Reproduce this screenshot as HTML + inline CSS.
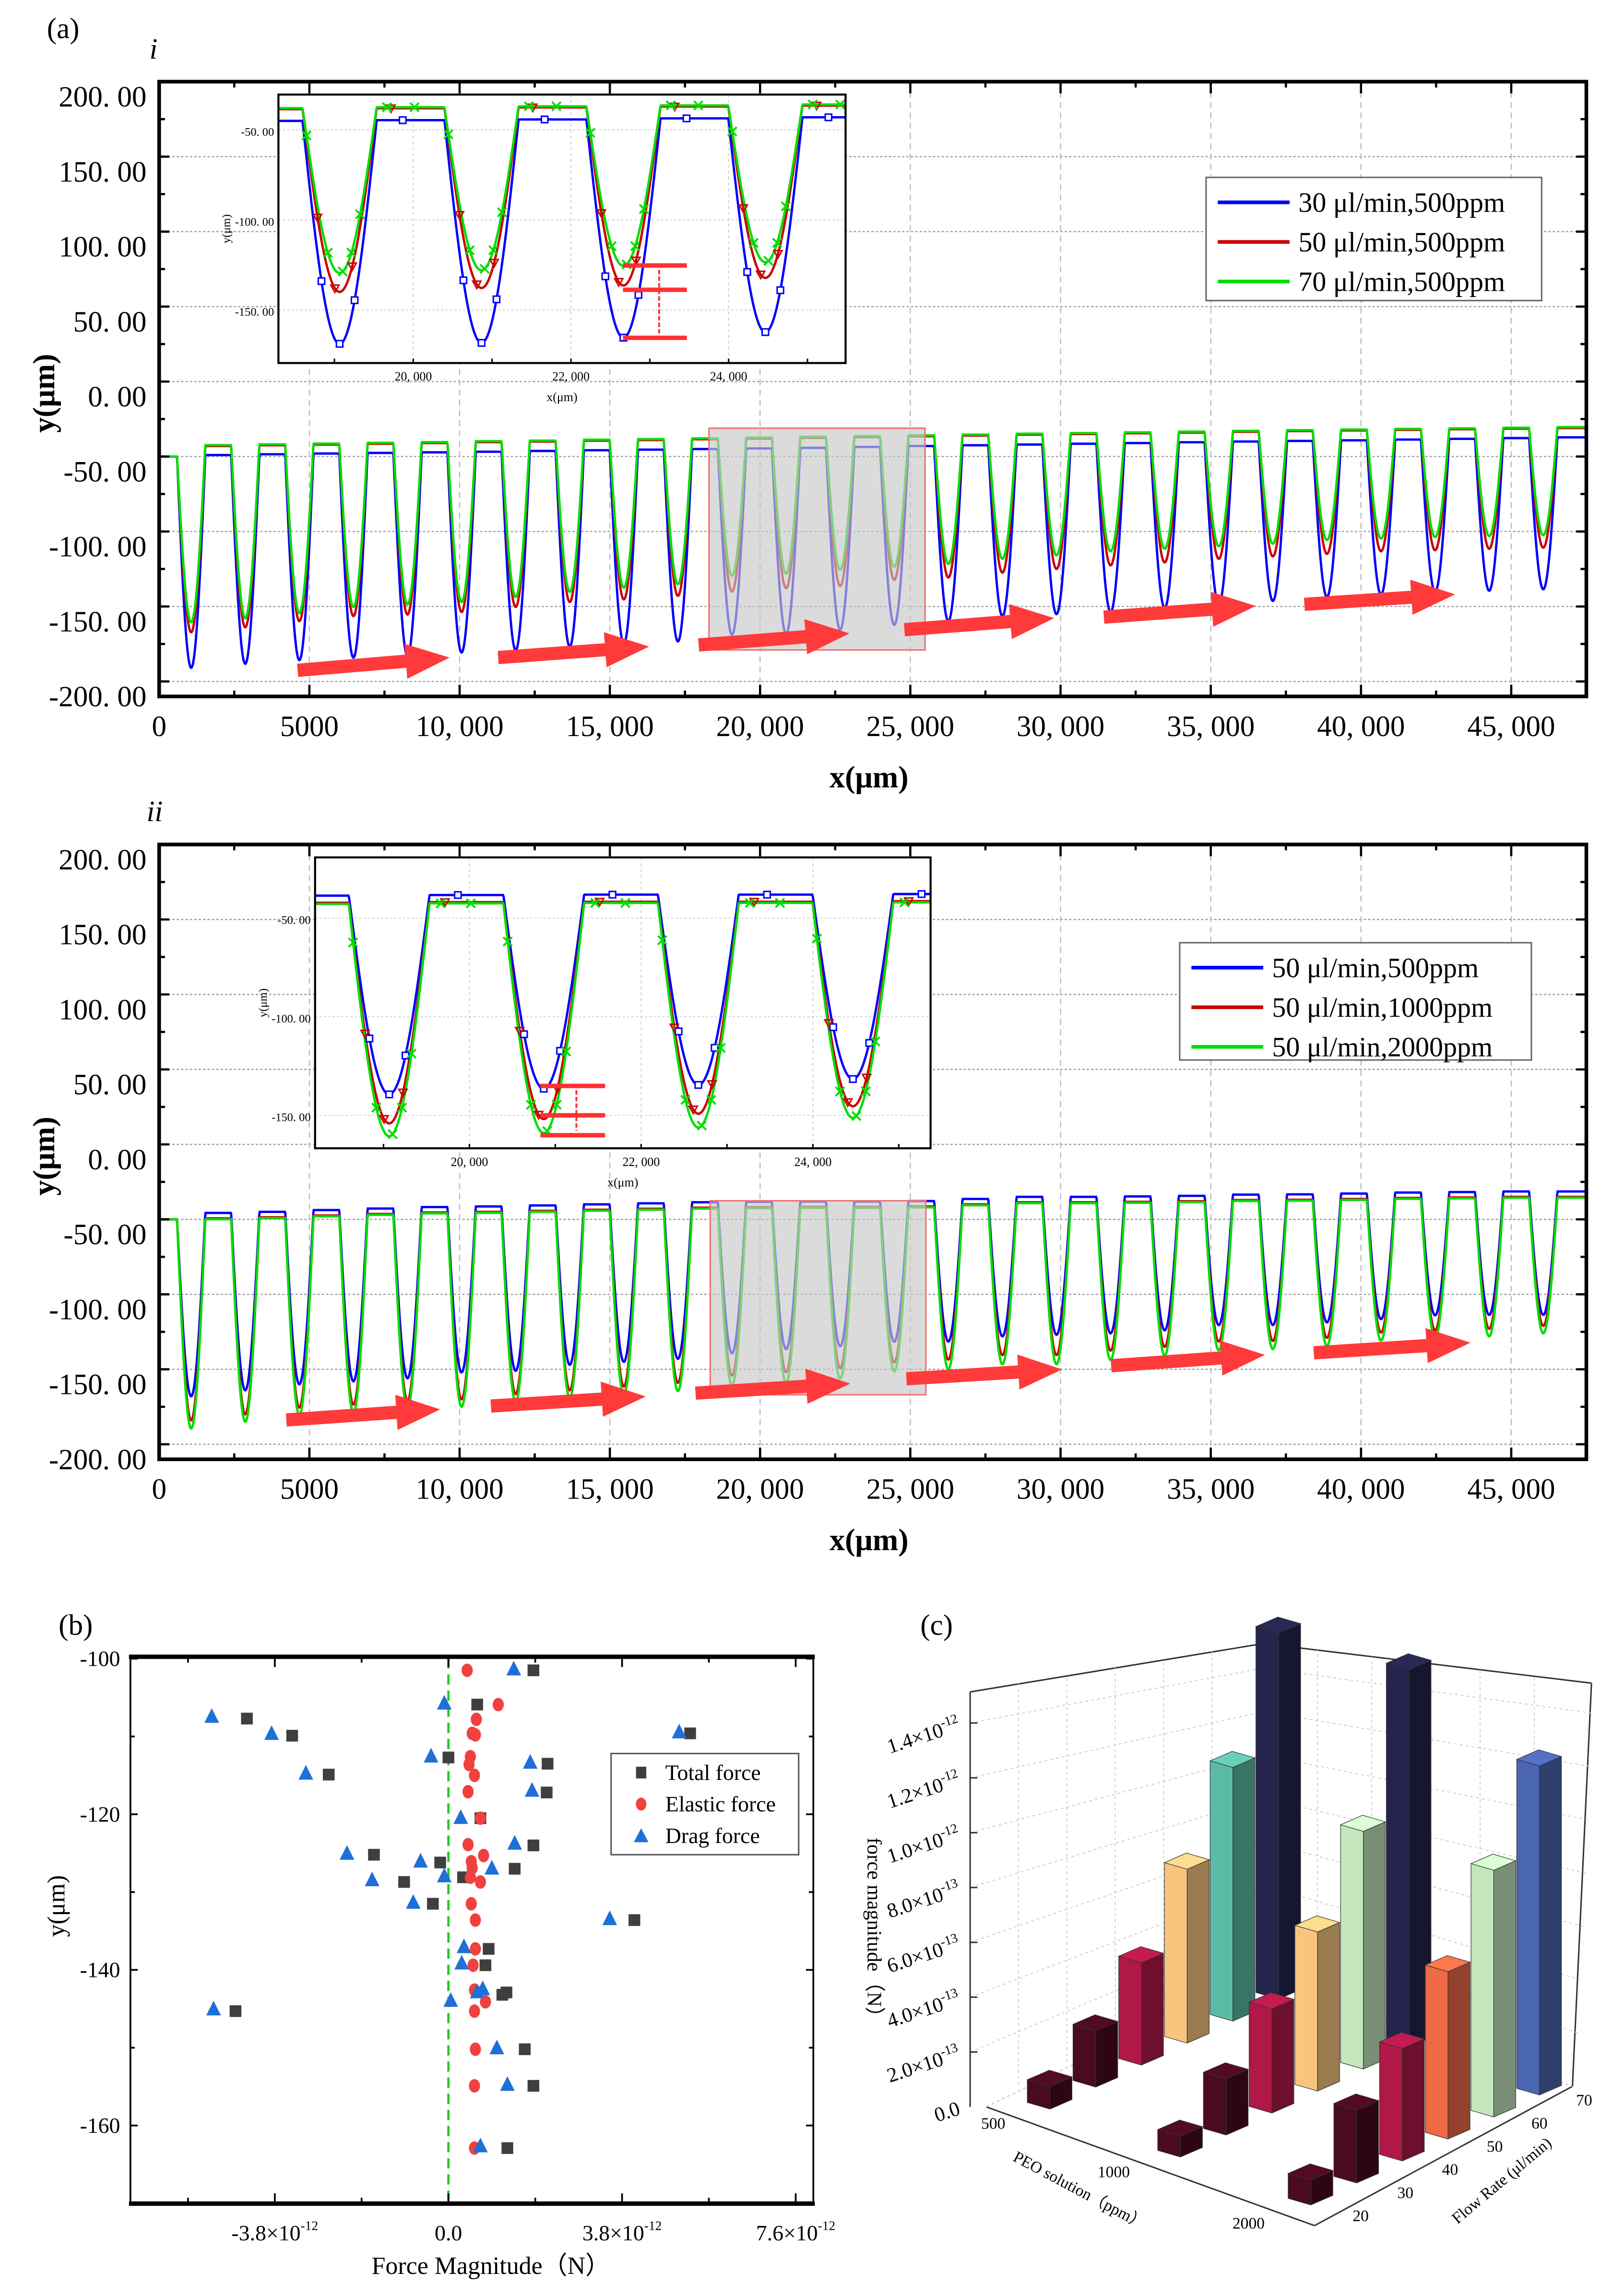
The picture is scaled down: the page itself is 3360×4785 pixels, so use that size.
<!DOCTYPE html>
<html><head><meta charset="utf-8">
<style>
html,body{margin:0;padding:0;background:#fff;}
svg{display:block;font-family:"Liberation Serif",serif;}
</style></head>
<body>
<svg id="fig" xmlns="http://www.w3.org/2000/svg" width="3360" height="4785" viewBox="0 0 1100 1566" preserveAspectRatio="none">
<defs>
<clipPath id="clipA"><rect x="108.6" y="55.7" width="973.9" height="419.3"/></clipPath>
<clipPath id="clipB"><rect x="108.6" y="576" width="973.9" height="419.3"/></clipPath>
<clipPath id="clipIA"><rect x="190" y="64.5" width="387" height="183.1"/></clipPath>
<clipPath id="clipIB"><rect x="215" y="584.8" width="420" height="198.4"/></clipPath>
</defs>
<text x="32" y="26" font-size="20">(a)</text>
<text x="102" y="40" font-size="20" font-style="italic">i</text>
<text x="100" y="560" font-size="20" font-style="italic">ii</text>
<text x="40" y="1115" font-size="20">(b)</text>
<text x="628" y="1115" font-size="20">(c)</text>
<g id="pa"></g>
<g id="pb"></g>
<g id="pc"></g>
<g id="pd"></g>
</svg>
<script>
// ---------- DATA ----------
const wellCenters=[1066,2866,4666,6466,8266,10066,11866,13666,15466,17266,19066,20866,22666,24466,26266,28066,29866,31666,33466,35266,37066,38866,40666,42466,44266,46066];
const iBlueMin=[-190.9,-188.2,-185.8,-184.1,-183.1,-180.7,-179.1,-176.7,-174.7,-173.3,-168.8,-168.3,-165.4,-162.3,-159.8,-156.4,-155.1,-153.7,-151,-148.6,-146.3,-143.6,-141.9,-140.2,-139.5,-138.5];
const iRedMin=[-167.2,-163.9,-159.8,-156.4,-155.4,-153.7,-150.3,-147,-145.3,-142.9,-140,-137.8,-136.4,-132.2,-130.7,-127.4,-125,-122.6,-120.6,-118.2,-116.6,-114.9,-113.2,-112.5,-111.5,-110.8];
const iGreenMin=[-160.5,-157.8,-154.4,-150.3,-148.6,-147,-143.6,-140.2,-137.5,-135.1,-129.5,-128,-125.5,-123.5,-121.6,-118.2,-115.9,-113.2,-111.5,-109.8,-108.1,-105.7,-104.7,-103.7,-103,-102.4];
const iBluePlat=[-49,-48.5,-48,-47.6,-47.2,-46.8,-46.3,-45.8,-45.4,-45,-44.6,-44.2,-43.6,-43,-42.5,-42,-41.5,-41,-40.5,-40,-39.6,-39.2,-38.7,-38.2,-37.7,-37.2];
const iRedPlat=[-43,-42.5,-42,-41.5,-41,-40.4,-40,-39.4,-39,-38.5,-38,-37.5,-37,-36.5,-36,-35.4,-35,-34.5,-34,-33.5,-33,-32.6,-32.2,-31.8,-31.4,-31];
const iGreenPlat=[-42.4,-41.9,-41.4,-40.9,-40.4,-39.8,-39.4,-38.8,-38.4,-37.9,-37.4,-36.9,-36.4,-35.9,-35.4,-34.8,-34.4,-33.9,-33.4,-32.9,-32.4,-32,-31.6,-31.2,-30.8,-30.4];
const iiBlueMin=[-168,-164,-160,-158,-156,-152,-151,-147,-145,-143,-139.4,-136.5,-134.6,-131.6,-131.5,-128,-127,-126,-124,-120.5,-120.5,-118.7,-116.5,-114,-113.7,-113.7];
const iiRedMin=[-184,-180,-175.5,-173.5,-171,-170,-166.5,-164,-161.5,-159,-154.1,-151.9,-149.2,-145.4,-143.5,-140.5,-140.5,-137.5,-135,-131.5,-131,-129,-125.5,-124,-123,-121];
const iiGreenMin=[-189.5,-185,-180.6,-178.8,-176,-175,-171.6,-169,-167,-164.5,-160.6,-159,-156.2,-151.3,-150,-146.6,-146.6,-143.7,-140.8,-137.3,-136.5,-134.4,-130.8,-129,-128,-126];
const iiBluePlat=[-45.7,-45,-43.8,-42.8,-41.8,-41.4,-40.7,-40,-39.3,-38.6,-38.3,-38.1,-38.1,-37.8,-36.4,-35,-35,-34.7,-34.3,-33.5,-33.3,-32.8,-32.1,-31.8,-31.4,-31.4];
const iiRedPlat=[-49.3,-48.6,-47.4,-46.4,-45.4,-45,-44.3,-43.6,-42.9,-42.2,-41.9,-41.7,-41.7,-41.4,-40,-38.6,-38.6,-38.3,-37.9,-37.1,-36.9,-36.4,-35.7,-35.4,-35,-35];
const iiGreenPlat=[-49.9,-49.2,-48,-47,-46,-45.6,-44.9,-44.2,-43.5,-42.8,-42.5,-42.3,-42.3,-42,-40.6,-39.2,-39.2,-38.9,-38.5,-37.7,-37.5,-37,-36.3,-36,-35.6,-35.6];
const startLevel=-50;
const aYTicks=[200,150,100,50,0,-50,-100,-150,-200];
const aYTickLabels=["200. 00","150. 00","100. 00","50. 00","0. 00","-50. 00","-100. 00","-150. 00","-200. 00"];
const aXTicks=[0,5000,10000,15000,20000,25000,30000,35000,40000,45000];
const aXTickLabels=["0","5000","10, 000","15, 000","20, 000","25, 000","30, 000","35, 000","40, 000","45, 000"];
const insetXTicks=[20000,22000,24000];
const insetXTickLabels=["20, 000","22, 000","24, 000"];
const insetYTicks=[-50,-100,-150];
const insetYTickLabels=["-50. 00","-100. 00","-150. 00"];
const iArrows=[[4610,-192.6,9666,-184.1],[11283,-184.1,16305,-176.7],[17957,-175.7,22979,-167.9],[24802,-165.5,29790,-157.8],[31441,-157.1,36498,-149.7],[38115,-148.6,43137,-141.9]];
const iiArrows=[[4232,-183.8,9355,-176.7],[11041,-174.5,16194,-168.1],[17850,-165.9,23002,-159.5],[24873,-156.3,30056,-150.1],[31682,-147.6,36804,-140.4],[38430,-139,43644,-132.3]];
const iBox=[18300,-31.1,25490,-179];
const iiBox=[18340,-37.6,25518,-167];
const iLegend=["30 μl/min,500ppm","50 μl/min,500ppm","70 μl/min,500ppm"];
const iiLegend=["50 μl/min,500ppm","50 μl/min,1000ppm","50 μl/min,2000ppm"];
const iBracket=[22660,23470,23119,-125.3,-138.8,-165.5];
const iiBracket=[20827,21580,21246,-135.1,-150,-160.1];
// panel b
const totalX=[1.86,0.63,-4.41,-3.42,5.29,0,2.17,-2.62,2.15,0.70,1.86,-1.63,-0.18,1.45,0.32,-0.97,-0.34,4.07,0.88,0.81,1.27,1.18,-4.66,1.67,1.86,1.29];
const totalY=[-101.5,-105.9,-107.7,-109.9,-109.6,-112.7,-113.5,-114.9,-117.2,-120.5,-124.0,-125.2,-126.2,-127.0,-128.1,-128.7,-131.5,-133.6,-137.3,-139.4,-142.9,-143.2,-145.3,-150.2,-154.9,-162.9];
const elasticX=[0.41,1.09,0.61,0.52,0.59,0.48,0.45,0.57,0.43,0.70,0.43,0.77,0.50,0.52,0.48,0.70,0.50,0.59,0.59,0.54,0.57,0.81,0.57,0.59,0.57,0.57];
const elasticY=[-101.5,-105.9,-107.8,-109.6,-109.8,-112.6,-113.6,-115.0,-117.1,-120.5,-123.9,-125.3,-126.1,-126.9,-128.1,-128.7,-131.5,-133.6,-137.3,-139.4,-142.6,-144.1,-145.3,-150.2,-154.9,-162.9];
const dragX=[1.43,-0.09,-5.18,-3.87,5.05,-0.38,1.79,-3.12,1.83,0.27,1.45,-2.22,-0.61,0.95,-0.09,-1.67,-0.77,3.53,0.34,0.29,0.75,0.63,0.05,-5.14,1.06,1.29,0.70];
const dragY=[-101.3,-105.7,-107.4,-109.6,-109.4,-112.5,-113.3,-114.7,-116.9,-120.4,-123.7,-125.0,-126.0,-126.9,-127.9,-128.4,-131.3,-133.4,-137.0,-139.1,-142.4,-142.8,-143.9,-145.0,-150.0,-154.7,-162.6];
const bYTicks=[-100,-120,-140,-160];
const bXTicks=[-3.8,0,3.8,7.6];
const bXTickLabels=[["-3.8×10","-12"],["0.0",""],["3.8×10","-12"],["7.6×10","-12"]];
const bLegend=["Total force","Elastic force","Drag force"];
// panel c
const peoCats=["500","1000","2000"];
const flowCats=["20","30","40","50","60","70"];
const c500=[0.083,0.205,0.373,0.634,0.925,1.335];
const c1000=[0.076,0.205,0.38,0.58,0.867,1.376];
const c2000=[0.091,0.266,0.41,0.61,0.9,1.2];
const cZTicks=[0,0.2,0.4,0.6,0.8,1.0,1.2,1.4];
const cZTickLabels=[["0.0",""],["2.0×10","-13"],["4.0×10","-13"],["6.0×10","-13"],["8.0×10","-13"],["1.0×10","-12"],["1.2×10","-12"],["1.4×10","-12"]];
const cColors=[["#4a0a1f","#4a0a1f","#b01848","#f8c57f","#5cbba6","#25244d"],["#4a0a1f","#4a0a1f","#b01848","#f8c57f","#c3e6bd","#25244d"],["#4a0a1f","#4a0a1f","#b01848","#ee6a45","#c3e6bd","#4a66b2"]];

// ---------- HELPERS ----------
const NS="http://www.w3.org/2000/svg";
function add(parent,tag,attrs){const e=document.createElementNS(NS,tag);for(const k in attrs)e.setAttribute(k,attrs[k]);parent.appendChild(e);return e;}
const W=470;
function wave(mins,plats,x){
  for(let k=0;k<wellCenters.length;k++){
    const u=x-wellCenters[k];
    if(Math.abs(u)<W){const p=u<0?(k===0?startLevel:plats[k-1]):plats[k];return p+(mins[k]-p)*Math.cos(Math.PI/2*Math.abs(u)/W);}
  }
  let p=startLevel;
  for(let k=0;k<wellCenters.length;k++){if(wellCenters[k]<x)p=plats[k];}
  return p;
}
function curvePath(mins,plats,X,Y,xa,xb,step){
  let d="";
  for(let x=xa;x<=xb;x+=step){d+=(d?"L":"M")+X(x).toFixed(2)+","+Y(wave(mins,plats,x)).toFixed(2);}
  return d;
}
function darken(hex,f){const n=parseInt(hex.slice(1),16);let r=(n>>16)&255,g=(n>>8)&255,b=n&255;r=Math.round(Math.min(255,r*f));g=Math.round(Math.min(255,g*f));b=Math.round(Math.min(255,b*f));return "rgb("+r+","+g+","+b+")";}

// ---------- PANEL A (i and ii) ----------
function drawA(gid,top,clip,mins,plats,arrows,box,legend,legBox,inset,bracket){
  const g=document.getElementById(gid);
  const X=v=>108.6+v*(1082.5-108.6)/47500;
  const Y=v=>top+(200-v)*1.0227;
  const bottom=Y(-210);
  aYTicks.forEach(v=>{if(v===200)return;const l=add(g,"line",{x1:108.6,x2:1082.5,y1:Y(v),y2:Y(v),stroke:"#999","stroke-width":0.8,"stroke-dasharray":"1.5,1.5"});
    
    });
  aXTicks.forEach(v=>{if(v===0)return;const l=add(g,"line",{x1:X(v),x2:X(v),y1:top,y2:bottom,stroke:"#bbb","stroke-width":0.8,"stroke-dasharray":"4,3"});
    
    });
  const cols=["#0000ff","#cc0000","#00dd00"];
  const names=["series-blue","series-red","series-green"];
  for(let s=0;s<3;s++){
    const p=add(g,"path",{d:curvePath(mins[s],plats[s],X,Y,0,47500,15),fill:"none",stroke:cols[s],"stroke-width":1.6,"clip-path":"url(#"+clip+")"});
    
    
  }
  const bx=add(g,"rect",{x:X(box[0]),y:Y(box[1]),width:X(box[2])-X(box[0]),height:Y(box[3])-Y(box[1]),fill:"rgba(200,200,200,0.65)",stroke:"#f07070","stroke-width":1});
  
  
  arrows.forEach(a=>{
    const x1=X(a[0]),y1=Y(a[1]),x2=X(a[2]),y2=Y(a[3]);
    const dx=x2-x1,dy=y2-y1,L=Math.hypot(dx,dy),ux=dx/L,uy=dy/L,nx=-uy,ny=ux;
    const hl=30,sw=4.5,hw=12;const bx2=x2-ux*hl,by2=y2-uy*hl;
    const pts=[[x1+nx*sw,y1+ny*sw],[bx2+nx*sw,by2+ny*sw],[bx2+nx*hw,by2+ny*hw],[x2,y2],[bx2-nx*hw,by2-ny*hw],[bx2-nx*sw,by2-ny*sw],[x1-nx*sw,y1-ny*sw]];
    const pg=add(g,"polygon",{points:pts.map(p=>p[0].toFixed(1)+","+p[1].toFixed(1)).join(" "),fill:"#ff3a3a"});
    
    
  });
  const fr=add(g,"rect",{x:108.6,y:top,width:973.9,height:bottom-top,fill:"none",stroke:"#000","stroke-width":2.5});
  
  
  for(let v=0;v<=47500;v+=2500){const len=v%5000===0?8:4;
    const t1=add(g,"line",{x1:X(v),x2:X(v),y1:bottom,y2:bottom-len,stroke:"#000","stroke-width":1.5});
    
    
    const t2=add(g,"line",{x1:X(v),x2:X(v),y1:top,y2:top+len,stroke:"#000","stroke-width":1.5});
    
    }
  for(let v=-200;v<=200;v+=25){const len=v%50===0?7:4;
    const t1=add(g,"line",{x1:108.6,x2:108.6+len,y1:Y(v),y2:Y(v),stroke:"#000","stroke-width":1.5});
    
    
    const t2=add(g,"line",{x1:1082.5,x2:1082.5-len,y1:Y(v),y2:Y(v),stroke:"#000","stroke-width":1.5});
    
    }
  aYTicks.forEach((v,i)=>{const t=add(g,"text",{x:100,y:Y(v)+17,"font-size":20,"text-anchor":"end"});t.textContent=aYTickLabels[i];
    
    });
  aXTicks.forEach((v,i)=>{const t=add(g,"text",{x:X(v),y:bottom+27,"font-size":20,"text-anchor":"middle"});t.textContent=aXTickLabels[i];
    
    });
  const yt=add(g,"text",{x:0,y:0,"font-size":21,"font-weight":"bold","text-anchor":"middle",transform:"translate(37,"+(Y(0)+8)+") rotate(-90)"});yt.textContent="y(μm)";
  
  
  const xt=add(g,"text",{x:593,y:bottom+62,"font-size":21,"font-weight":"bold","text-anchor":"middle"});xt.textContent="x(μm)";
  
  
  const lg=add(g,"g",{});
  
  
  const lr=add(lg,"rect",{x:legBox[0],y:legBox[1],width:legBox[2],height:legBox[3],fill:"#fff",stroke:"#666","stroke-width":1});
  
  
  legend.forEach((txt,i)=>{const yy=legBox[1]+17+i*27;
    const ll=add(lg,"line",{x1:legBox[0]+8,x2:legBox[0]+57,y1:yy,y2:yy,stroke:cols[i],"stroke-width":2.5});
    
    
    const lt=add(lg,"text",{x:legBox[0]+63,y:yy+6.5,"font-size":19});lt.textContent=txt;
    
    });
  const ig=add(g,"g",{});
  
  
  const IX=v=>inset.x0+(v-inset.v0)*inset.sx;
  const IY=v=>inset.y50+(-50-v)*inset.sy;
  const ir=add(ig,"rect",{x:inset.x0,y:inset.top,width:inset.w,height:inset.h,fill:"#fff",stroke:"none"});
  
  
  insetXTicks.forEach(v=>{const l=add(ig,"line",{x1:IX(v),x2:IX(v),y1:inset.top,y2:inset.top+inset.h,stroke:"#ccc","stroke-width":0.6,"stroke-dasharray":"2,2"});
    
    });
  insetYTicks.forEach(v=>{const l=add(ig,"line",{x1:inset.x0,x2:inset.x0+inset.w,y1:IY(v),y2:IY(v),stroke:"#ccc","stroke-width":0.6,"stroke-dasharray":"1.5,1.5"});
    
    });
  const vmin=inset.v0-100,vmax=inset.v0+inset.w/inset.sx+100;
  for(let s=0;s<3;s++){
    const p=add(ig,"path",{d:curvePath(mins[s],plats[s],IX,IY,vmin,vmax,8),fill:"none",stroke:cols[s],"stroke-width":1.6,"clip-path":"url(#"+inset.clip+")"});
    
    
  }
  const offs=[[-230,0,190,800],[-280,-60,160,650],[-420,-150,40,150,260,600,950]];
  for(let k=10;k<=13;k++){
    for(let s=0;s<3;s++){
      offs[s].forEach(u=>{const xv=wellCenters[k]+u;const px=IX(xv),py=IY(wave(mins[s],plats[s],xv));
        if(px<inset.x0+2||px>inset.x0+inset.w-2)return;
        let m;
        if(s===0){m=add(ig,"rect",{x:px-2.2,y:py-2.2,width:4.4,height:4.4,fill:"#fff",stroke:cols[0],"stroke-width":1});}
        else if(s===1){m=add(ig,"polygon",{points:(px-2.8)+","+(py-2.2)+" "+(px+2.8)+","+(py-2.2)+" "+px+","+(py+2.8),fill:"none",stroke:cols[1],"stroke-width":1});}
        else{m=add(ig,"path",{d:"M"+(px-3)+","+(py-3)+"L"+(px+3)+","+(py+3)+"M"+(px+3)+","+(py-3)+"L"+(px-3)+","+(py+3),stroke:cols[2],"stroke-width":1.3});}
        
        
      });
    }
  }
  [bracket[3],bracket[4],bracket[5]].forEach(v=>{const b=add(ig,"line",{x1:IX(bracket[0]),x2:IX(bracket[1]),y1:IY(v),y2:IY(v),stroke:"#ff3030","stroke-width":3});
    
    });
  const va=add(ig,"line",{x1:IX(bracket[2]),x2:IX(bracket[2]),y1:IY(bracket[3])+3,y2:IY(bracket[5])-3,stroke:"#ff3030","stroke-width":1.3,"stroke-dasharray":"3,1.5"});
  
  
  const ifr=add(ig,"rect",{x:inset.x0,y:inset.top,width:inset.w,height:inset.h,fill:"none",stroke:"#000","stroke-width":1.4});
  
  
  for(let v=19000;v<=25000;v+=1000){const t=add(ig,"line",{x1:IX(v),x2:IX(v),y1:inset.top+inset.h,y2:inset.top+inset.h-3,stroke:"#000","stroke-width":1});
    
    }
  insetXTicks.forEach((v,i)=>{const t=add(ig,"text",{x:IX(v),y:inset.top+inset.h+12,"font-size":8.5,"text-anchor":"middle"});t.textContent=insetXTickLabels[i];
    
    });
  insetYTicks.forEach((v,i)=>{const t=add(ig,"text",{x:inset.x0-3,y:IY(v)+4,"font-size":8,"text-anchor":"end"});t.textContent=insetYTickLabels[i];
    
    });
  const ixt=add(ig,"text",{x:inset.x0+inset.w/2,y:inset.top+inset.h+26,"font-size":8.5,"text-anchor":"middle"});ixt.textContent="x(μm)";
  
  
  const iyt=add(ig,"text",{x:0,y:0,"font-size":8,"text-anchor":"middle",transform:"translate("+(inset.x0-33)+","+(inset.top+inset.h/2)+") rotate(-90)"});iyt.textContent="y(μm)";
  
  
}
drawA("pa",55.7,"clipA",[iBlueMin,iRedMin,iGreenMin],[iBluePlat,iRedPlat,iGreenPlat],iArrows,iBox,iLegend,[823,121,229,84],
  {x0:190,top:64.5,w:387,h:183.1,v0:18290,sx:0.0538,y50:88.6,sy:1.228,clip:"clipIA"},iBracket);
drawA("pb",576,"clipB",[iiBlueMin,iiRedMin,iiGreenMin],[iiBluePlat,iiRedPlat,iiGreenPlat],iiArrows,iiBox,iiLegend,[805,643,240,80],
  {x0:215,top:584.8,w:420,h:198.4,v0:18203,sx:0.0586,y50:626.2,sy:1.345,clip:"clipIB"},iiBracket);

// ---------- PANEL B ----------
(function(){
  const g=document.getElementById("pc");
  const X=v=>306+v*31.18;
  const Y=v=>1131.3+(-100-v)*5.307;
  const l0=add(g,"line",{x1:X(0),x2:X(0),y1:1131,y2:1503,stroke:"#22cc22","stroke-width":1.6,"stroke-dasharray":"7,4"});
  
  
  totalX.forEach((v,i)=>{const m=add(g,"rect",{x:X(v)-4,y:Y(totalY[i])-4,width:8,height:8,fill:"#3f3f3f"});
    
    });
  elasticX.forEach((v,i)=>{const m=add(g,"ellipse",{cx:X(v),cy:Y(elasticY[i]),rx:3.8,ry:4.6,fill:"#f04040"});
    
    });
  dragX.forEach((v,i)=>{const x=X(v),y=Y(dragY[i]);const m=add(g,"polygon",{points:(x-5)+","+(y+4.5)+" "+(x+5)+","+(y+4.5)+" "+x+","+(y-5.5),fill:"#1f6fd8"});
    
    });
  const fr=add(g,"rect",{x:89,y:1130,width:466,height:373,fill:"none",stroke:"#000","stroke-width":1.2});
  
  
  [1130,1503].forEach(y=>{const l=add(g,"line",{x1:88,x2:556,y1:y,y2:y,stroke:"#000","stroke-width":3});
    
    });
  for(let v=-5.7;v<=7.7;v+=1.9){const len=Math.abs(Math.round(v/1.9))%2===0?6:3;
    const t=add(g,"line",{x1:X(v),x2:X(v),y1:1131,y2:1131+len,stroke:"#000","stroke-width":1.2});
    
    
    const t2=add(g,"line",{x1:X(v),x2:X(v),y1:1502,y2:1502-len,stroke:"#000","stroke-width":1.2});
    
    }
  for(let v=-100;v>=-170;v-=10){const len=v%20===0?5:3;
    const t=add(g,"line",{x1:89,x2:89+len,y1:Y(v),y2:Y(v),stroke:"#000","stroke-width":1.2});
    
    
    const t2=add(g,"line",{x1:555,x2:555-len,y1:Y(v),y2:Y(v),stroke:"#000","stroke-width":1.2});
    
    }
  bYTicks.forEach(v=>{const t=add(g,"text",{x:82,y:Y(v)+5,"font-size":15,"text-anchor":"end"});t.textContent=String(v);
    
    });
  bXTicks.forEach((v,i)=>{const t=add(g,"text",{x:X(v),y:1528,"font-size":15,"text-anchor":"middle"});t.textContent=bXTickLabels[i][0];
    if(bXTickLabels[i][1]){const s=add(t,"tspan",{"font-size":9,dy:-7});s.textContent=bXTickLabels[i][1];}
    
    });
  const xt=add(g,"text",{x:335,y:1551,"font-size":17,"text-anchor":"middle"});xt.textContent="Force Magnitude（N）";
  
  
  const yt=add(g,"text",{x:0,y:0,"font-size":17,"text-anchor":"middle",transform:"translate(44,1300) rotate(-90)"});yt.textContent="y(μm)";
  
  
  const lb=add(g,"rect",{x:417,y:1196,width:128,height:69,fill:"#fff",stroke:"#555","stroke-width":1});
  
  
  bLegend.forEach((txt,i)=>{const y=1209+i*21.5;let m;
    if(i===0)m=add(g,"rect",{x:434,y:y-4,width:7,height:8,fill:"#3f3f3f"});
    else if(i===1)m=add(g,"ellipse",{cx:437.5,cy:y,rx:3.6,ry:4.4,fill:"#f04040"});
    else m=add(g,"polygon",{points:"432.5,"+(y+4.5)+" 442.5,"+(y+4.5)+" 437.5,"+(y-5),fill:"#1f6fd8"});
    
    
    const t=add(g,"text",{x:454,y:y+5,"font-size":15});t.textContent=txt;
    
    });
})();

// ---------- PANEL C ----------
(function(){
  const g=document.getElementById("pd");
  const ZS=187;
  const baseX=(i,j)=>701+i*89+j*31.2;
  const baseY=(i,j)=>1434+i*32.7-j*15;
  const Z=h=>h*ZS;
  const FV=[15.5,4.5],SV=[15,-6.5];
  // walls and floor
  const walls=[[662,1437,662,1154],[662,1154,862,1121],[862,1121,862,1345],[862,1121,1086,1148],[1086,1148,1073,1423],[673,1437,897,1518],[897,1518,1073,1423]];
  walls.forEach(w=>{const l=add(g,"line",{x1:w[0],y1:w[1],x2:w[2],y2:w[3],stroke:"#333","stroke-width":1});
    
    });
  const floorBack=[[673,1437,862,1345],[862,1345,1073,1423]];
  floorBack.forEach(w=>{const l=add(g,"line",{x1:w[0],y1:w[1],x2:w[2],y2:w[3],stroke:"#bbb","stroke-width":0.6,"stroke-dasharray":"2,2"});
    
    });
  cZTicks.forEach(v=>{if(v===0)return;const y0=1437-Z(v);const yb=1345-Z(v)*(224/283*1.0);
    const l=add(g,"line",{x1:662,y1:y0,x2:862,y2:Math.max(1121,yb),stroke:"#ccc","stroke-width":0.6,"stroke-dasharray":"2,2"});
    
    
    const yr=1423-Z(v)*(275/283);
    const l2=add(g,"line",{x1:862,y1:Math.max(1121,yb),x2:1075+v*9,y2:yr,stroke:"#ccc","stroke-width":0.6,"stroke-dasharray":"2,2"});
    
    
    const t=add(g,"line",{x1:662,y1:y0,x2:667,y2:y0,stroke:"#333","stroke-width":1});
    
    });
  for(let k=1;k<=5;k++){const x=662+k*33;const l=add(g,"line",{x1:x,y1:1437-k*15.3,x2:x,y2:1154-k*5.5,stroke:"#ccc","stroke-width":0.6,"stroke-dasharray":"2,2"});
    
    
    const x2=862+k*37;const l2=add(g,"line",{x1:x2,y1:1345+k*13,x2:x2,y2:1121+k*4.5,stroke:"#ccc","stroke-width":0.6,"stroke-dasharray":"2,2"});
    
    }
  // bars
  const series=[c500,c1000,c2000];
  const pts=a=>a.map(p=>p[0].toFixed(1)+","+p[1].toFixed(1)).join(" ");
  for(let i=0;i<3;i++){
    for(let j=5;j>=0;j--){
      const h=Z(series[i][j]);const ax=baseX(i,j),ay=baseY(i,j);
      const A=[ax,ay],B=[ax+FV[0],ay+FV[1]],C=[B[0]+SV[0],B[1]+SV[1]],D=[ax+SV[0],ay+SV[1]];
      const At=[A[0],A[1]-h],Bt=[B[0],B[1]-h],Ct=[C[0],C[1]-h],Dt=[D[0],D[1]-h];
      const col=cColors[i][j];
      const bg=add(g,"g",{});
      
      
      const f1e=add(bg,"polygon",{points:pts([A,B,Bt,At]),fill:col,stroke:"#333","stroke-width":0.4});
      
      
      const f2e=add(bg,"polygon",{points:pts([B,C,Ct,Bt]),fill:darken(col,0.62),stroke:"#333","stroke-width":0.4});
      
      
      const f3e=add(bg,"polygon",{points:pts([At,Bt,Ct,Dt]),fill:darken(col,1.12),stroke:"#333","stroke-width":0.4});
      
      
    }
  }
  cZTicks.forEach((v,i)=>{const x=656,y=1442-Z(v);
    const t=add(g,"text",{x:x,y:y,"font-size":14,"text-anchor":"end",transform:"rotate(-18 "+x+" "+y+")"});t.textContent=cZTickLabels[i][0];
    if(cZTickLabels[i][1]){const s=add(t,"tspan",{"font-size":9,dy:-6});s.textContent=cZTickLabels[i][1];}
    
    });
  const zt=add(g,"text",{x:0,y:0,"font-size":14,"text-anchor":"middle",transform:"translate(592,1318) rotate(90)"});zt.textContent="force magnitude（N）";
  
  
  const peoLab=[[686,1452],[771,1485],[863,1520]];
  peoCats.forEach((c,i)=>{const t=add(g,"text",{x:peoLab[i][0],y:peoLab[i][1],"font-size":11,"text-anchor":"end"});t.textContent=c;
    
    });
  flowCats.forEach((c,j)=>{const x=923+j*30.5,y=1515-j*15.8;const t=add(g,"text",{x:x,y:y,"font-size":11});t.textContent=c;
    
    });
  const pt=add(g,"text",{x:0,y:0,"font-size":11,"text-anchor":"middle",transform:"translate(735,1497) rotate(28)"});pt.textContent="PEO solution（ppm）";
  
  
  const ft=add(g,"text",{x:0,y:0,"font-size":11,"text-anchor":"middle",transform:"translate(1027,1490) rotate(-40)"});ft.textContent="Flow Rate (μl/min)";
  
  
})();
</script>
</body></html>
